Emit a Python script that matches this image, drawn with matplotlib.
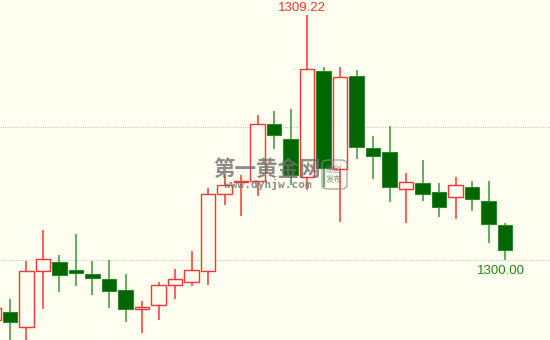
import matplotlib.pyplot as plt
from matplotlib.patches import Rectangle, FancyBboxPatch

# candle data (oldest first, first candle only partly visible)
opens = [1297.74, 1298.04, 1297.48, 1299.59, 1299.92, 1299.62, 1299.47, 1299.30,
         1298.89, 1298.17, 1298.31, 1299.06, 1299.17, 1299.57, 1302.48, 1302.95,
         1302.99, 1305.12, 1304.54, 1303.12, 1307.13, 1303.41, 1306.93, 1304.23,
         1304.06, 1302.67, 1302.90, 1302.56, 1302.37, 1302.75, 1302.22, 1301.32]
highs = [1298.49, 1298.53, 1299.96, 1301.13, 1300.19, 1300.98, 1299.96, 1300.02,
         1299.47, 1298.46, 1299.19, 1299.66, 1300.34, 1302.73, 1303.22, 1303.20,
         1305.46, 1305.61, 1305.68, 1309.22, 1307.26, 1307.26, 1307.15, 1304.67,
         1305.04, 1303.26, 1303.78, 1302.90, 1303.12, 1302.97, 1302.97, 1301.39]
lows = [1297.37, 1296.80, 1296.69, 1298.16, 1298.80, 1299.02, 1298.68, 1298.19,
        1297.67, 1297.25, 1297.76, 1298.55, 1299.04, 1299.06, 1302.07, 1301.66,
        1302.41, 1304.18, 1302.82, 1302.63, 1302.75, 1301.45, 1303.80, 1303.05,
        1302.18, 1301.39, 1302.24, 1301.62, 1301.54, 1301.86, 1300.64, 1300.00]
closes = [1298.19, 1297.67, 1299.59, 1300.04, 1299.44, 1299.51, 1299.32, 1298.85,
          1298.17, 1298.25, 1299.06, 1299.30, 1299.64, 1302.50, 1302.84, 1302.99,
          1305.14, 1304.70, 1303.20, 1307.19, 1303.46, 1306.89, 1304.27, 1303.91,
          1302.75, 1302.94, 1302.48, 1302.01, 1302.82, 1302.30, 1301.35, 1300.36]
grid_levels = [1300.0, 1305.0]
high_label = "1309.22"
low_label = "1300.00"

BG = '#FFFFF0'
RED = '#FF3333'
GREEN_FILL = '#006600'
GREEN_EDGE = '#2a862a'
GREEN_WICK = '#3a943a'

fig = plt.figure(figsize=(5.5, 3.4), dpi=100, facecolor=BG)
ax = fig.add_axes([0, 0, 1, 1])
ax.set_facecolor(BG)
ax.set_xlim(0.394, 33.727)
ax.set_ylim(1296.99, 1309.79)
ax.axis('off')

for lvl in grid_levels:
    ax.axhline(lvl, color='#c8c8c8', linestyle=(0, (1, 1)), linewidth=0.8, zorder=1)

w = 0.85
for i, (o, h, l, c) in enumerate(zip(opens, highs, lows, closes)):
    top, bot = max(o, c), min(o, c)
    if c >= o:
        ax.vlines(i, top, h, color=RED, linewidth=1.1, zorder=2)
        ax.vlines(i, l, bot, color=RED, linewidth=1.1, zorder=2)
        ax.add_patch(Rectangle((i - w / 2, bot), w, max(top - bot, 0.02),
                               facecolor=BG, edgecolor=RED, linewidth=1.0, zorder=3))
    else:
        ax.vlines(i, l, h, color=GREEN_WICK, linewidth=1.1, zorder=2)
        ax.add_patch(Rectangle((i - w / 2, bot), w, max(top - bot, 0.02),
                               facecolor=GREEN_FILL, edgecolor=GREEN_EDGE, linewidth=0.8, zorder=3))

# max label on the top candle, recent low label on the last candle
imax = highs.index(max(highs))
ax.text(imax - 0.3, max(highs) + 0.03, high_label, color=RED, fontsize=9.5,
        family='Liberation Sans', ha='center', va='bottom', zorder=5)
ilast = len(lows) - 1
ax.text(ilast - 0.25, lows[ilast] - 0.2, low_label, color='#1a8a1a', fontsize=9.5,
        family='Liberation Sans', ha='center', va='top', zorder=5)

# watermark
fig.text(267 / 550, 1 - 169 / 340, "第一黄金网", color='#6e6e6e', alpha=0.8,
         fontsize=15.5, fontweight='bold', family=['Noto Sans CJK SC', 'DejaVu Sans'],
         ha='center', va='center', zorder=10)
fig.text(268 / 550, 1 - 184 / 340, "www.dyhjw.com", color='#6e6e6e', alpha=0.8,
         fontsize=8, fontweight='bold', family='DejaVu Sans Mono',
         ha='center', va='center', zorder=10)
stamp = FancyBboxPatch((322 / 550, 1 - 189 / 340), 25 / 550, 29 / 340,
                       boxstyle='round,pad=0.0,rounding_size=0.012', transform=fig.transFigure,
                       facecolor='none', edgecolor='#8a8a8a', alpha=0.8, linewidth=0.9, zorder=10)
fig.add_artist(stamp)
fig.text(334.5 / 550, 1 - 174.5 / 340, "原创\n发布", color='#6e6e6e', alpha=0.8,
         fontsize=6, family=['Noto Sans CJK SC', 'DejaVu Sans'], linespacing=1.15,
         ha='center', va='center', zorder=10)

fig.savefig('out.png', dpi=100, facecolor=BG)
